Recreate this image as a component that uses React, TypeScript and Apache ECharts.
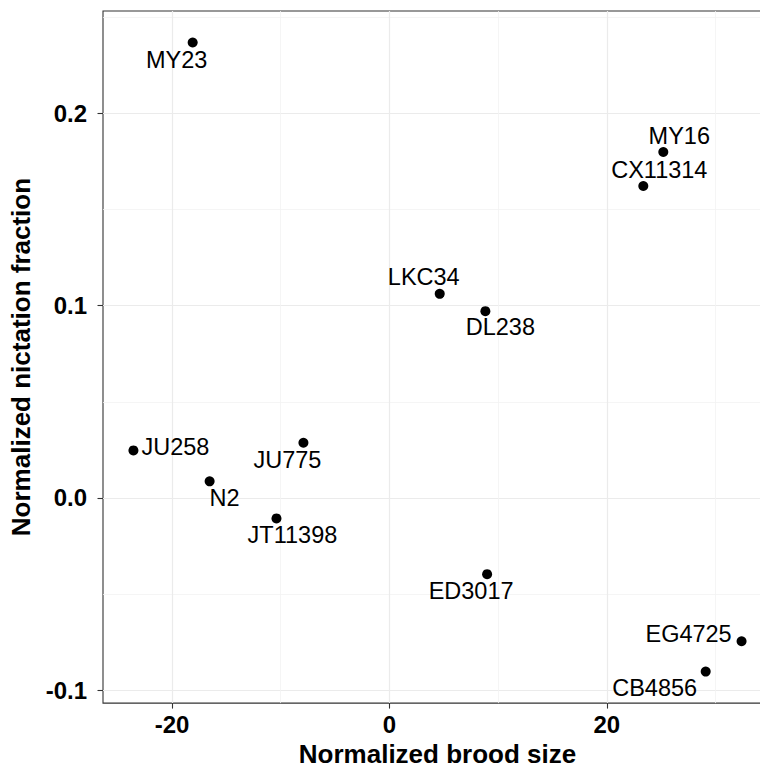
import React, { useEffect, useRef } from "react";
import * as echarts from "echarts";

const strains = ["MY23", "MY16", "CX11314", "LKC34", "DL238", "JU258", "JU775", "N2", "JT11398", "ED3017", "EG4725", "CB4856"];
const broodSize = [-18.1, 25.2, 23.36, 4.63, 8.83, -23.55, -7.91, -16.54, -10.39, 8.99, 32.4, 29.1];
const nictation = [0.237, 0.18, 0.1623, 0.1062, 0.0972, 0.0247, 0.0287, 0.0086, -0.0107, -0.0397, -0.0746, -0.0904];
const xTicks = [-20, 0, 20];
const yTicks = [-0.1, 0, 0.1, 0.2];

// label placement (pixel offsets of each label from its point), layout only
const labelOffsets = [
  [-16, 17], [16, -16], [16, -16], [-16, -17], [15, 16], [42, -3],
  [-16, 17], [15, 17], [16, 17], [-16, 17], [-53, -7], [-51, 16],
];

const FONT = "'Liberation Sans', Arial, Helvetica, sans-serif";

export default function App() {
  const ref = useRef<HTMLDivElement>(null);
  useEffect(() => {
    document.body.style.margin = "0";
    const chart = echarts.init(ref.current!, null, { renderer: "svg" });
    const data = strains.map((s, i) => ({
      name: s,
      value: [broodSize[i], nictation[i]],
    }));
    chart.setOption({
      animation: false,
      backgroundColor: "#ffffff",
      grid: {
        left: 103,
        top: 11,
        right: 0,
        bottom: 67,
        show: true,
        borderColor: "#333333",
        borderWidth: 1.1,
        backgroundColor: "transparent",
        containLabel: false,
      },
      xAxis: {
        type: "value",
        min: -26.35,
        max: 35.2,
        splitNumber: 3,
        name: "Normalized brood size",
        nameLocation: "middle",
        nameGap: 37,
        nameTextStyle: { fontFamily: FONT, fontSize: 26, fontWeight: "bold", color: "#000", verticalAlign: "top" },
        axisLine: { show: false, onZero: false },
        axisTick: { show: true, length: 5.5, customValues: xTicks, lineStyle: { color: "#333333", width: 1.1 } },
        axisLabel: {
          customValues: xTicks,
          margin: 9,
          fontFamily: FONT,
          fontSize: 24,
          fontWeight: "bold",
          color: "#000",
          formatter: (v: number) => String(v),
        },
        splitLine: { show: true, lineStyle: { color: "#EBEBEB", width: 1.2 } },
        minorTick: { show: false, splitNumber: 2 },
        minorSplitLine: { show: true, lineStyle: { color: "#F2F2F2", width: 0.8 } },
      },
      yAxis: {
        type: "value",
        min: -0.1068,
        max: 0.2534,
        splitNumber: 4,
        name: "Normalized nictation fraction",
        nameLocation: "middle",
        nameRotate: 90,
        nameGap: 69,
        nameTextStyle: { fontFamily: FONT, fontSize: 26, fontWeight: "bold", color: "#000" },
        axisLine: { show: false, onZero: false },
        axisTick: { show: true, length: 5.5, customValues: yTicks, lineStyle: { color: "#333333", width: 1.1 } },
        axisLabel: {
          customValues: yTicks,
          margin: 16,
          fontFamily: FONT,
          fontSize: 24,
          fontWeight: "bold",
          color: "#000",
          formatter: (v: number) => v.toFixed(1),
        },
        splitLine: { show: true, lineStyle: { color: "#EBEBEB", width: 1.2 } },
        minorTick: { show: false, splitNumber: 2 },
        minorSplitLine: { show: true, lineStyle: { color: "#F2F2F2", width: 0.8 } },
      },
      series: [
        {
          type: "scatter",
          symbol: "circle",
          symbolSize: 10,
          itemStyle: { color: "#000000", opacity: 1 },
          data,
          label: {
            show: true,
            position: "inside",
            formatter: "{b}",
            align: "center",
            verticalAlign: "middle",
            fontFamily: FONT,
            fontSize: 23.5,
            color: "#000000",
            textBorderWidth: 0,
          },
          labelLayout: (p: any) => ({
            dx: labelOffsets[p.dataIndex][0],
            dy: labelOffsets[p.dataIndex][1],
            hideOverlap: false,
          }),
        },
      ],
    });
    return () => chart.dispose();
  }, []);
  return (
    <div style={{ width: 760, height: 772, position: "absolute", left: 0, top: 0, overflow: "hidden" }}>
      <div ref={ref} style={{ width: 772, height: 772 }} />
    </div>
  );
}
